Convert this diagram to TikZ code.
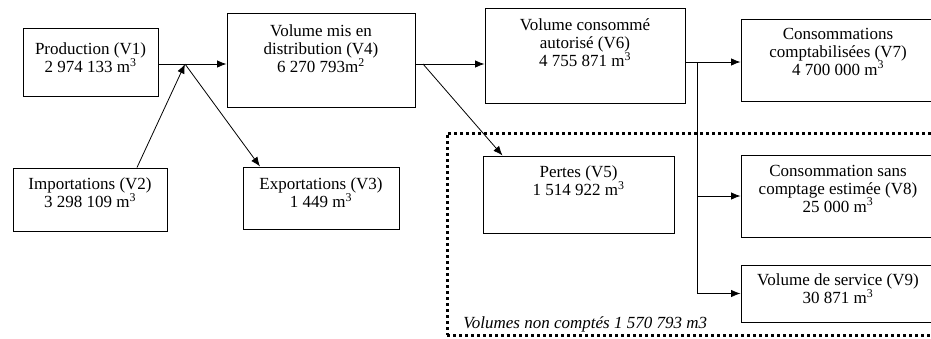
\documentclass[tikz,border=0pt]{standalone}
\usepackage{fontspec}
\setmainfont{Liberation Serif}
\usetikzlibrary{arrows.meta}
\usetikzlibrary{positioning}

\begin{document}
\begin{tikzpicture}[x=1pt,y=-1pt,->,>={Latex[length=9.5pt,width=7.5pt]},line width=0.8pt]
      \tikzstyle{bloc}=[draw=black,line width=1pt,rectangle,inner sep=0pt]
      \tikzstyle{txt}=[align=center,inner sep=0pt,font=\fontsize{17}{18}\selectfont]
      \tikzstyle{zone}=[draw=black,line width=3pt,dash pattern=on 3pt off 3pt,inner sep=0pt]
      \clip (0,0) rectangle (931,338);

      % boites
      \node[bloc,minimum width=135pt,minimum height=68pt]	(prod)   at (90.5,62)   {};
      \node[bloc,minimum width=188pt,minimum height=94pt]	(dist)   at (321,60)    {};
      \node[bloc,minimum width=200pt,minimum height=95pt]	(cons)   at (585,55.5)  {};
      \node[bloc,minimum width=194pt,minimum height=82pt]	(compt)  at (838,60)    {};
      \node[bloc,minimum width=154pt,minimum height=63pt]	(imp)    at (90,199.5)  {};
      \node[bloc,minimum width=156pt,minimum height=62pt]	(exp)    at (321,198)   {};
      \node[zone,minimum width=513pt,minimum height=202pt]	(noncpt) at (703.5,234) {};
      \node[bloc,minimum width=191pt,minimum height=77pt]	(pertes) at (578.5,194.5) {};
      \node[bloc,minimum width=194pt,minimum height=82pt]	(sans)   at (838,196)   {};
      \node[bloc,minimum width=194pt,minimum height=57pt]	(serv)   at (838,293.5) {};

      % textes
      \node[txt,below=15pt of prod.north]   (prodT)   {Production (V1)\\2 974 133 m\textsuperscript{3}};
      \node[txt,below=12pt of dist.north]   (distT)   {Volume mis en\\distribution (V4)\\6 270 793m\textsuperscript{2}};
      \node[txt,below=11pt of cons.north]   (consT)   {Volume consommé\\autorisé (V6)\\4 755 871 m\textsuperscript{3}};
      \node[txt,below=9pt of compt.north]   (comptT)  {Consommations\\comptabilisées (V7)\\4 700 000 m\textsuperscript{3}};
      \node[txt,below=10pt of imp.north]    (impT)    {Importations (V2)\\3 298 109 m\textsuperscript{3}};
      \node[txt,below=11pt of exp.north]    (expT)    {Exportations (V3)\\1 449 m\textsuperscript{3}};
      \node[txt,below=10pt of pertes.north] (pertesT) {Pertes (V5)\\1 514 922 m\textsuperscript{3}};
      \node[txt,below=10pt of sans.north]   (sansT)   {Consommation sans\\comptage estimée (V8)\\25 000 m\textsuperscript{3}};
      \node[txt,below=9pt of serv.north]    (servT)   {Volume de service (V9)\\30 871 m\textsuperscript{3}};
      \node[txt,font=\fontsize{17}{18}\selectfont\itshape,anchor=base west] (noncptT) at (463,328) {Volumes non comptés 1 570 793 m3};

      % liaisons
      \coordinate (jonc)   at (185,64);
      \coordinate (fork)   at (423,64);
      \coordinate (branch) at (697,62);

      \draw[-] (prod.east |- jonc) -- (jonc);
      \draw (jonc) -- (dist.west |- jonc);
      \draw ([xshift=47pt]imp.north) -- (jonc);
      \draw (jonc) -- ([xshift=-61pt]exp.north);
      \draw (dist.east |- fork) -- (cons.west |- fork);
      \draw (fork) -- ([xshift=-76pt]pertes.north);
      \draw (cons.east |- branch) -- (compt.west |- branch);
      \draw[-] (branch) -- (branch |- serv.west);
      \draw (branch |- sans.west) -- (sans.west);
      \draw (branch |- serv.west) -- (serv.west);

\end{tikzpicture}
\end{document}
